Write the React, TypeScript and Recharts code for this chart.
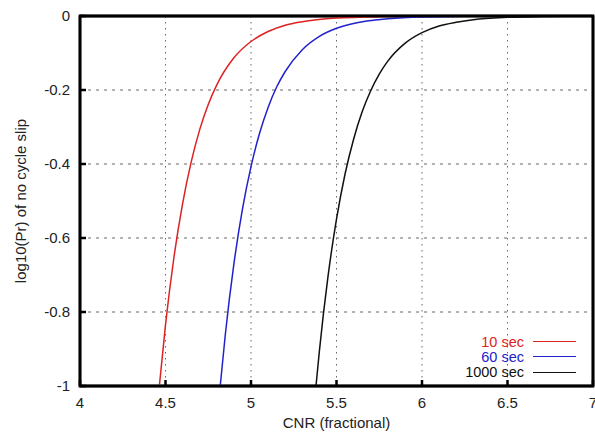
import { LineChart, Line, XAxis, YAxis, CartesianGrid, Legend, ReferenceArea } from "recharts";

const xTicks = [4, 4.5, 5, 5.5, 6, 6.5, 7];
const yTicks = [-1, -0.8, -0.6, -0.4, -0.2, 0];

// 10 sec
const cnr10 = [4.464, 4.5, 4.55, 4.6, 4.65, 4.7, 4.75, 4.8, 4.9, 5.0, 5.1, 5.2, 5.3, 5.5, 5.75, 6, 6.5, 7];
const pr10 = [-1, -0.835, -0.65, -0.507, -0.395, -0.307, -0.239, -0.186, -0.113, -0.069, -0.042, -0.025, -0.0155, -0.0057, -0.0016, -0.0005, 0, 0];

// 60 sec
const cnr60 = [4.82, 4.85, 4.9, 4.95, 5.0, 5.05, 5.1, 5.15, 5.2, 5.3, 5.4, 5.5, 5.6, 5.8, 6.0, 6.5, 7];
const pr60 = [-1, -0.86, -0.67, -0.522, -0.407, -0.317, -0.247, -0.192, -0.15, -0.091, -0.055, -0.033, -0.02, -0.0074, -0.0027, 0, 0];

// 1000 sec
const cnr1000 = [5.38, 5.4, 5.45, 5.5, 5.55, 5.6, 5.65, 5.7, 5.75, 5.8, 5.9, 6.0, 6.1, 6.2, 6.3, 6.5, 6.7, 7];
const pr1000 = [-1, -0.905, -0.705, -0.549, -0.427, -0.333, -0.259, -0.202, -0.157, -0.122, -0.074, -0.045, -0.027, -0.017, -0.01, -0.0037, -0.0014, 0];

const toPoints = (xs: number[], ys: number[]) => xs.map((x, i) => ({ x, y: ys[i] }));

const series = [
  { name: "10 sec", color: "#dd2222", data: toPoints(cnr10, pr10) },
  { name: "60 sec", color: "#2222cc", data: toPoints(cnr60, pr60) },
  { name: "1000 sec", color: "#111111", data: toPoints(cnr1000, pr1000) },
];

const font = "'Liberation Sans', Arial, sans-serif";
const fs = 15;
const mark = { stroke: "#000", strokeWidth: 2.5 };

const BottomTick = ({ x, y, payload }: any) => (
  <text x={x} y={y + 22} textAnchor="middle" fontSize={fs} fill="#222" fontFamily={font}>
    {payload.value}
  </text>
);

const LeftTick = ({ x, y, payload }: any) => (
  <text x={x - 10} y={y + 5} textAnchor="end" fontSize={fs} fill="#222" fontFamily={font}>
    {payload.value}
  </text>
);

const YTitle = ({ viewBox }: any) => {
  const cx = 26;
  const cy = viewBox.y + viewBox.height / 2;
  return (
    <text x={cx} y={cy} transform={`rotate(-90 ${cx} ${cy})`} textAnchor="middle" fontSize={fs} fill="#222" fontFamily={font}>
      log10(Pr) of no cycle slip
    </text>
  );
};

const XTitle = ({ viewBox }: any) => (
  <text x={viewBox.x + viewBox.width / 2} y={428} textAnchor="middle" fontSize={fs} fill="#222" fontFamily={font}>
    CNR (fractional)
  </text>
);

const renderLegend = () => (
  <div style={{ display: "flex", flexDirection: "column", alignItems: "flex-end", fontFamily: font }}>
    {series.map((s) => (
      <div key={s.name} style={{ display: "flex", alignItems: "center", height: 15.3 }}>
        <span style={{ color: s.color, fontSize: 14.5, marginRight: 9, lineHeight: "14px" }}>{s.name}</span>
        <span style={{ width: 43, height: 0, borderTop: `1.5px solid ${s.color}` }} />
      </div>
    ))}
  </div>
);

export default function App() {
  return (
    <div style={{ position: "absolute", left: 0, top: 0, background: "#fff" }}>
      <LineChart width={595} height={432} margin={{ top: 15, right: 1, left: 0, bottom: 0 }}>
        <CartesianGrid horizontal={false} stroke="#666" strokeDasharray="1.5 4.5" />
        <CartesianGrid vertical={false} stroke="#666" strokeDasharray="3 5" />
        <XAxis
          dataKey="x"
          type="number"
          domain={[4, 7]}
          ticks={xTicks}
          allowDataOverflow
          axisLine={mark}
          tickLine={mark}
          tickSize={-6}
          tickMargin={6}
          height={46}
          tick={<BottomTick />}
          interval={0}
          label={<XTitle />}
        />
        <XAxis
          xAxisId="top"
          orientation="top"
          dataKey="x"
          type="number"
          domain={[4, 7]}
          ticks={xTicks}
          allowDataOverflow
          axisLine={mark}
          tickLine={mark}
          tickSize={-6}
          height={1}
          tick={false}
          interval={0}
        />
        <YAxis
          type="number"
          domain={[-1, 0]}
          ticks={yTicks}
          allowDataOverflow
          axisLine={mark}
          tickLine={mark}
          tickSize={-6}
          tickMargin={6}
          width={80}
          tick={<LeftTick />}
          interval={0}
          label={<YTitle />}
        />
        <YAxis
          yAxisId="right"
          orientation="right"
          type="number"
          domain={[-1, 0]}
          ticks={yTicks}
          allowDataOverflow
          axisLine={mark}
          tickLine={mark}
          tickSize={-6}
          width={1}
          tick={false}
          interval={0}
        />
        {series.map((s) => (
          <Line
            key={s.name}
            name={s.name}
            data={s.data}
            dataKey="y"
            type="monotone"
            stroke={s.color}
            strokeWidth={1.5}
            dot={false}
            isAnimationActive={false}
          />
        ))}
        <ReferenceArea x1={4} x2={7} y1={-1} y2={0} fill="none" fillOpacity={0} stroke="#000" strokeOpacity={1} strokeWidth={2.8} />
        <Legend
          layout="vertical"
          align="center"
          verticalAlign="middle"
          content={renderLegend}
          wrapperStyle={{ left: 430, top: 334, width: 146 }}
        />
      </LineChart>
    </div>
  );
}
